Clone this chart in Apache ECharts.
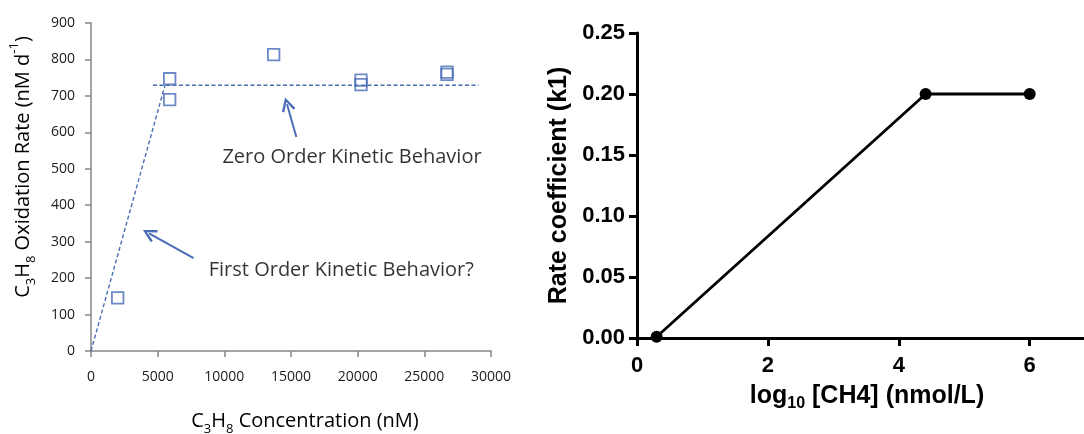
<!DOCTYPE html>
<html>
<head>
<meta charset="utf-8">
<script src="https://cdn.jsdelivr.net/npm/echarts@6/dist/echarts.min.js"></script>
<style>
  html, body { margin: 0; padding: 0; background: #ffffff; }
  #chart { width: 1084px; height: 434px; }
</style>
</head>
<body>
<div id="chart"></div>
<script>
// ---------- Left panel data (C3H8 oxidation) ----------
const concX = [2000, 5900, 5900, 13700, 20250, 20250, 26700, 26700];
const rateY = [146, 747, 690, 813, 743, 731, 765, 759];
const zeroOrderLineX = [4650, 29070];
const zeroOrderLineY = [729, 729];
const firstOrderLineX = [0, 5550];
const firstOrderLineY = [0, 729];
const arrowZeroFrom = [15400, 587];
const arrowZeroTo = [14700, 677];
const arrowFirstFrom = [7695, 255];
const arrowFirstTo = [4350, 323];
const noteZeroText = 'Zero Order Kinetic Behavior';
const noteZeroPos = [19575, 531];
const noteFirstText = 'First Order Kinetic Behavior?';
const noteFirstPos = [18773, 221];
const leftXTicks = [0, 5000, 10000, 15000, 20000, 25000, 30000];
const leftYTicks = [0, 100, 200, 300, 400, 500, 600, 700, 800, 900];

// ---------- Right panel data (rate coefficient) ----------
const logCH4 = [0.3, 4.41, 6.0];
const k1 = [0.001, 0.2, 0.2];
const rightXTicks = [0, 2, 4, 6];
const rightYTicks = [0, 0.05, 0.10, 0.15, 0.20, 0.25];

const blue = '#4a6db5';
const axisGray = '#868686';
const txt = '#000000';
const lfont = 'Open Sans';
const rfont = 'Liberation Sans';

const chart = echarts.init(document.getElementById('chart'), null, { renderer: 'canvas' });

const chevron = 'path://M0,10 L5,0 L10,10 L8.4,10.8 L5,3.6 L1.6,10.8 Z';

const option = {
  backgroundColor: '#ffffff',
  animation: false,
  grid: [
    { left: 91, top: 23, width: 400, height: 328, outerBoundsMode: 'none', containLabel: false },
    { left: 637, top: 33, width: 447, height: 305, outerBoundsMode: 'none', containLabel: false }
  ],
  xAxis: [
    {
      gridIndex: 0, type: 'value', min: leftXTicks[0], max: leftXTicks[leftXTicks.length - 1], interval: 5000,
      name: '{n|C}{s|3}{n|H}{s|8}{n| Concentration (nM)}',
      nameLocation: 'middle', nameGap: 55,
      nameTextStyle: {
        padding: [0, 0, 0, 28],
        rich: {
          n: { fontFamily: lfont, fontSize: 20, lineHeight: 30, color: txt },
          s: { fontFamily: lfont, fontSize: 13, lineHeight: 16, verticalAlign: 'bottom', color: txt }
        }
      },
      axisLine: { show: true, lineStyle: { color: axisGray, width: 1.5 } },
      axisTick: { show: true, length: 6, inside: false, lineStyle: { color: axisGray, width: 1.5 } },
      axisLabel: { margin: 19, fontFamily: lfont, fontSize: 14, color: '#1a1a1a', formatter: v => String(v) },
      splitLine: { show: false }
    },
    {
      gridIndex: 1, type: 'value', min: 0, max: 6.83,
      name: '{n|log}{s|10}{n| [CH4] (nmol/L)}',
      nameLocation: 'middle', nameGap: 42,
      nameTextStyle: {
        padding: [0, 0, 0, 13],
        rich: {
          n: { fontFamily: rfont, fontWeight: 'bold', fontSize: 25, lineHeight: 32, color: '#000' },
          s: { fontFamily: rfont, fontWeight: 'bold', fontSize: 16, lineHeight: 18, verticalAlign: 'bottom', color: '#000' }
        }
      },
      axisLine: { show: true, onZero: false, lineStyle: { color: '#000', width: 3 } },
      axisTick: { show: true, length: 8, customValues: rightXTicks, lineStyle: { color: '#000', width: 3 } },
      axisLabel: { margin: 17, customValues: rightXTicks, fontFamily: rfont, fontWeight: 'bold', fontSize: 22, color: '#000' },
      splitLine: { show: false }
    }
  ],
  yAxis: [
    {
      gridIndex: 0, type: 'value', min: leftYTicks[0], max: leftYTicks[leftYTicks.length - 1], interval: 100,
      name: '{n|C}{s|3}{n|H}{s|8}{n| Oxidation Rate (nM d}{p|-1}{n|)}',
      nameLocation: 'middle', nameGap: 53,
      nameTextStyle: {
        padding: [0, 0, 0, 40],
        rich: {
          n: { fontFamily: lfont, fontSize: 20, lineHeight: 30, color: txt },
          s: { fontFamily: lfont, fontSize: 13, lineHeight: 16, verticalAlign: 'bottom', color: txt },
          p: { fontFamily: lfont, fontSize: 13, lineHeight: 16, verticalAlign: 'top', color: txt }
        }
      },
      axisLine: { show: true, lineStyle: { color: axisGray, width: 1.5 } },
      axisTick: { show: true, length: 6, lineStyle: { color: axisGray, width: 1.5 } },
      axisLabel: { margin: 16, fontFamily: lfont, fontSize: 14, color: '#1a1a1a' },
      splitLine: { show: false }
    },
    {
      gridIndex: 1, type: 'value', min: 0, max: 0.25, interval: 0.05,
      name: 'Rate coefficient (k1)',
      nameLocation: 'middle', nameGap: 62,
      nameTextStyle: { fontFamily: rfont, fontWeight: 'bold', fontSize: 25, lineHeight: 32, color: '#000' },
      axisLine: { show: true, onZero: false, lineStyle: { color: '#000', width: 3 } },
      axisTick: { show: true, length: 8, lineStyle: { color: '#000', width: 3 } },
      axisLabel: { margin: 12, fontFamily: rfont, fontWeight: 'bold', fontSize: 22, color: '#000',
        formatter: v => v.toFixed(2) },
      splitLine: { show: false }
    }
  ],
  series: [
    {
      type: 'line', xAxisIndex: 0, yAxisIndex: 0, symbol: 'none', silent: true,
      data: firstOrderLineX.map((x, i) => [x, firstOrderLineY[i]]),
      lineStyle: { color: blue, width: 1.4, type: [4, 2.5] }
    },
    {
      type: 'line', xAxisIndex: 0, yAxisIndex: 0, symbol: 'none', silent: true,
      data: zeroOrderLineX.map((x, i) => [x, zeroOrderLineY[i]]),
      lineStyle: { color: blue, width: 1.4, type: [4, 2.5] }
    },
    {
      type: 'scatter', xAxisIndex: 0, yAxisIndex: 0,
      symbol: 'rect', symbolSize: 11.5,
      itemStyle: { color: 'rgba(255,255,255,0)', borderColor: blue, borderWidth: 1.8 },
      data: concX.map((x, i) => [x, rateY[i]])
    },
    {
      type: 'lines', coordinateSystem: 'cartesian2d', xAxisIndex: 0, yAxisIndex: 0,
      symbol: ['none', chevron], symbolSize: [16, 14],
      lineStyle: { color: blue, width: 2, opacity: 1, curveness: 0 },
      data: [
        { coords: [arrowZeroFrom, arrowZeroTo] },
        { coords: [arrowFirstFrom, arrowFirstTo] }
      ]
    },
    {
      type: 'scatter', xAxisIndex: 0, yAxisIndex: 0, symbolSize: 0, silent: true,
      label: { show: true, position: 'inside', fontFamily: lfont, fontSize: 20, color: txt,
        formatter: p => p.data[2] },
      data: [
        [noteZeroPos[0], noteZeroPos[1], noteZeroText],
        [noteFirstPos[0], noteFirstPos[1], noteFirstText]
      ]
    },
    {
      type: 'line', xAxisIndex: 1, yAxisIndex: 1,
      symbol: 'circle', symbolSize: 12, showAllSymbol: true,
      lineStyle: { color: '#000', width: 2.8 },
      itemStyle: { color: '#000' },
      data: logCH4.map((x, i) => [x, k1[i]])
    }
  ]
};

chart.setOption(option);
</script>
</body>
</html>
